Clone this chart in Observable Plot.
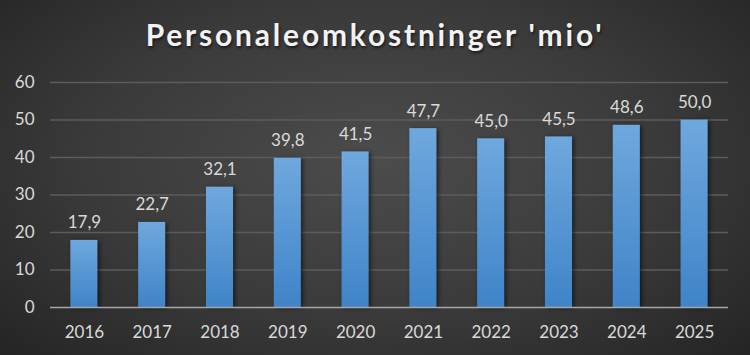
<!DOCTYPE html>
<html>
<head>
<meta charset="utf-8">
<script src="https://cdn.jsdelivr.net/npm/d3@7"></script>
<script src="https://cdn.jsdelivr.net/npm/@observablehq/plot@0.6"></script>
<style>
  html, body { margin: 0; padding: 0; }
  #chart {
    width: 750px; height: 355px; overflow: hidden;
    background: radial-gradient(ellipse 70% 80% at 50% 45%, #4c4c4c 0%, #3a3a3a 55%, #242424 100%);
    font-family: Lato, "Open Sans", sans-serif;
  }
  #title {
    height: 62px; box-sizing: border-box; padding-top: 18px;
    text-align: center; color: #f2f2f2; font-weight: bold;
    font-size: 30px; line-height: 32px; letter-spacing: 2.8px;
    text-shadow: 1px 2px 3px rgba(0,0,0,0.6);
  }
  svg { display: block; }
</style>
</head>
<body>
<div id="chart">
  <div id="title">Personaleomkostninger 'mio'</div>
</div>
<script>
const years = ["2016", "2017", "2018", "2019", "2020", "2021", "2022", "2023", "2024", "2025"];
const values = [17.9, 22.7, 32.1, 39.8, 41.5, 47.7, 45.0, 45.5, 48.6, 50.0];
const yTicks = [0, 10, 20, 30, 40, 50, 60];

const data = years.map((y, i) => ({year: y, value: values[i]}));
const fmt = v => d3.format(".1f")(v).replace(".", ",");

const plot = Plot.plot({
  width: 750,
  height: 293,
  marginTop: 20,
  marginBottom: 48,
  marginLeft: 50,
  marginRight: 22,
  style: {background: "transparent", color: "#dadada", fontFamily: "Lato, 'Open Sans', sans-serif", fontSize: "17px"},
  x: {domain: years, paddingInner: 0.6, paddingOuter: 0.3, round: false, label: null, tickSize: 0, tickPadding: 18},
  y: {domain: [0, 60], ticks: yTicks, label: null, tickSize: 0, tickPadding: 16},
  marks: [
    Plot.ruleY(yTicks.filter(t => t > 0), {stroke: "#5c5c5c", strokeWidth: 1.3}),
    Plot.barY(data, {x: "year", y: "value", fill: "url(#barGrad)"}),
    Plot.ruleY([0], {stroke: "#a6a6a6", strokeWidth: 1.5}),
    Plot.text(data, {x: "year", y: "value", text: d => fmt(d.value), dy: -12, lineAnchor: "bottom", fill: "#dadada", fontSize: 17})
  ]
});

d3.select(plot).insert("defs", ":first-child").html(
  `<linearGradient id="barGrad" x1="0" y1="0" x2="0" y2="1">
     <stop offset="0%" stop-color="#6fa8de"/>
     <stop offset="100%" stop-color="#3f84c8"/>
   </linearGradient>`
);
d3.select(plot).selectAll("g[aria-label='bar']").style("filter", "drop-shadow(2px 1px 2px rgba(0,0,0,0.55))");
d3.select(plot).selectAll("g[aria-label='y-axis tick label'], g[aria-label='x-axis tick label']").attr("fill", "#dadada");

document.getElementById("chart").appendChild(plot);
</script>
</body>
</html>
